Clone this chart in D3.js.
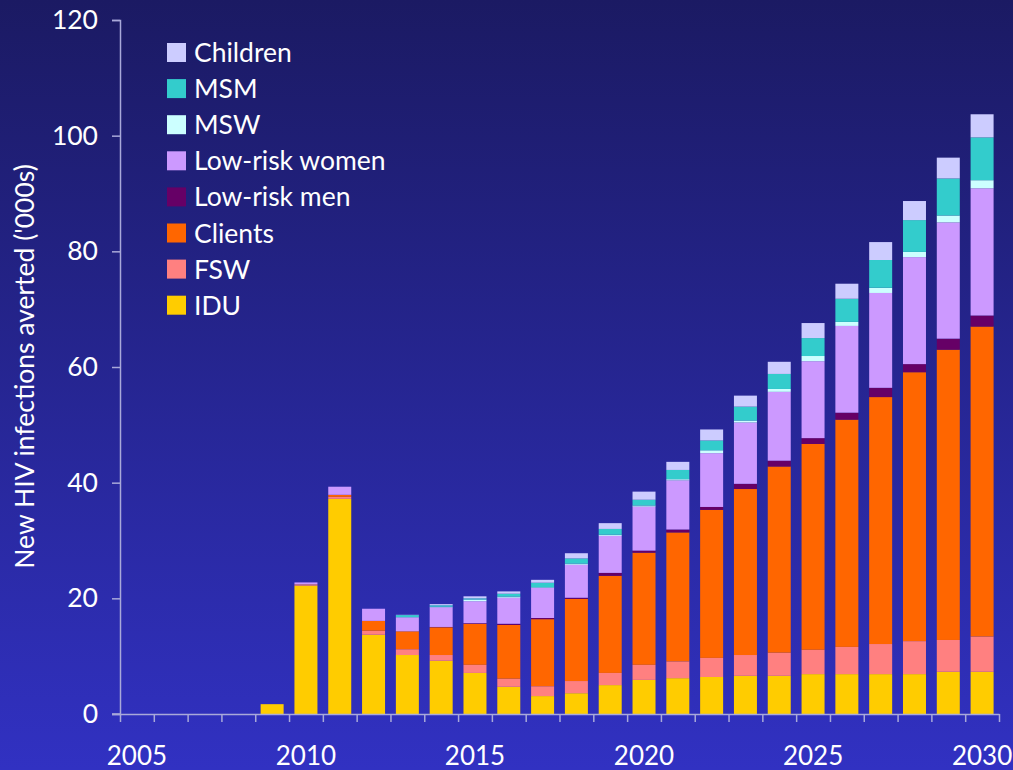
<!DOCTYPE html>
<html>
<head>
<meta charset="utf-8">
<script src="https://cdn.jsdelivr.net/npm/d3@7"></script>
<style>
  html, body { margin: 0; padding: 0; background: #1b1a64; }
  svg { display: block; }
  text { font-family: Lato, "Open Sans", sans-serif; fill: #ffffff; }
</style>
</head>
<body>
<svg id="chart" width="1013" height="770"></svg>
<script>
// Years with modelled results
const years = [2009, 2010, 2011, 2012, 2013, 2014, 2015, 2016, 2017, 2018, 2019,
               2020, 2021, 2022, 2023, 2024, 2025, 2026, 2027, 2028, 2029, 2030];

// New HIV infections averted ('000s) by population group
const idu         = [1.7, 22.2, 37.2, 13.7, 10.2, 9.2, 7.1, 4.7, 3.1, 3.6, 5.0, 5.9, 6.2, 6.4, 6.6, 6.6, 6.9, 6.9, 6.9, 6.9, 7.3, 7.3];
const fsw         = [0, 0.1, 0.35, 0.7, 1.0, 1.0, 1.4, 1.4, 1.7, 2.1, 2.1, 2.6, 2.9, 3.3, 3.6, 4.0, 4.2, 4.7, 5.2, 5.7, 5.5, 6.1];
const clients     = [0, 0.1, 0.35, 1.7, 3.1, 4.8, 7.1, 9.3, 11.6, 14.2, 16.8, 19.4, 22.3, 25.6, 28.7, 32.2, 35.6, 39.3, 42.7, 46.5, 50.2, 53.6];
const lowRiskMen  = [0, 0, 0, 0, 0, 0.05, 0.1, 0.2, 0.2, 0.2, 0.5, 0.35, 0.5, 0.5, 0.9, 1.0, 1.0, 1.2, 1.6, 1.4, 1.9, 1.9];
const lowRiskWomen= [0, 0.35, 1.4, 2.1, 2.4, 3.4, 3.8, 4.5, 5.2, 5.7, 6.4, 7.6, 8.5, 9.3, 10.6, 11.9, 13.3, 15.0, 16.4, 18.5, 20.1, 22.0];
const msw         = [0, 0, 0, 0, 0.05, 0.1, 0.3, 0.2, 0.1, 0.2, 0.2, 0.2, 0.2, 0.5, 0.35, 0.5, 0.9, 0.7, 0.9, 0.9, 1.2, 1.4];
const msm         = [0, 0, 0, 0, 0.35, 0.25, 0.2, 0.5, 0.8, 0.9, 1.0, 1.0, 1.6, 1.7, 2.4, 2.6, 3.1, 4.0, 4.8, 5.5, 6.4, 7.4];
const children    = [0, 0, 0, 0, 0.05, 0.2, 0.35, 0.4, 0.5, 0.9, 1.0, 1.4, 1.4, 1.9, 1.9, 2.1, 2.6, 2.6, 3.1, 3.3, 3.6, 4.0];

// Stack order bottom to top
const seriesNames = ["IDU", "FSW", "Clients", "Low-risk men", "Low-risk women", "MSW", "MSM", "Children"];
const seriesData  = [idu, fsw, clients, lowRiskMen, lowRiskWomen, msw, msm, children];
const seriesColors = ["#ffcc00", "#ff8080", "#ff6600", "#660066", "#cc99ff", "#ccffff", "#33cccc", "#ccccff"];

// Axis settings
const axisYears = d3.range(2005, 2031);
const yTicks = [0, 20, 40, 60, 80, 100, 120];
const xLabelYears = [2005, 2010, 2015, 2020, 2025, 2030];
const yTitle = "New HIV infections averted ('000s)";

const W = 1013, H = 770;
const plotLeft = 120, plotRight = 999, plotTop = 20, plotBottom = 714;
const axisColor = "#a9a9d9";
const fontSize = "26.5px";

const svg = d3.select("#chart");

// Background gradient
const defs = svg.append("defs");
const grad = defs.append("linearGradient").attr("id", "bg").attr("x1", 0).attr("y1", 0).attr("x2", 0).attr("y2", 1);
grad.append("stop").attr("offset", "0%").attr("stop-color", "#1b1a63");
grad.append("stop").attr("offset", "100%").attr("stop-color", "#3131c2");
svg.append("rect").attr("width", W).attr("height", H).attr("fill", "url(#bg)");

// Scales
const x = d3.scaleBand().domain(axisYears).range([plotLeft, plotRight]).padding(0);
const xEdge = d3.scaleLinear().domain([2005, 2031]).range([plotLeft, plotRight]);
const y = d3.scaleLinear().domain([0, 120]).range([plotBottom, plotTop]);

// Stacked data
const rows = years.map((yr, i) => {
  const r = { year: yr };
  seriesNames.forEach((n, k) => { r[n] = seriesData[k][i]; });
  return r;
});
const stacked = d3.stack().keys(seriesNames)(rows);

const barW = x.bandwidth() * 0.68;
const barOff = (x.bandwidth() - barW) / 2;

const barsG = svg.append("g");
stacked.forEach((layer, k) => {
  barsG.append("g").attr("fill", seriesColors[k])
    .selectAll("rect").data(layer).join("rect")
    .attr("x", d => x(d.data.year) + barOff)
    .attr("width", barW)
    .attr("y", d => y(d[1]))
    .attr("height", d => Math.max(0, y(d[0]) - y(d[1])));
});

// Y axis
const yAxis = svg.append("g").attr("transform", `translate(${plotLeft},0)`)
  .call(d3.axisLeft(y).tickValues(yTicks).tickSize(8).tickPadding(14).tickFormat(d3.format("d")));
yAxis.select(".domain").attr("stroke", axisColor).attr("stroke-width", 1.5);
yAxis.selectAll(".tick line").attr("stroke", axisColor).attr("stroke-width", 1.5);
yAxis.selectAll(".tick text").attr("fill", "#ffffff").style("font-size", fontSize).style("font-family", "Lato, sans-serif");

// X axis: ticks at year boundaries, labels centred in each fifth year
const xAxis = svg.append("g").attr("transform", `translate(0,${plotBottom})`)
  .call(d3.axisBottom(xEdge).tickValues(d3.range(2005, 2032)).tickSize(8).tickSizeOuter(0).tickFormat(""));
xAxis.select(".domain").attr("stroke", axisColor).attr("stroke-width", 1.5);
xAxis.selectAll(".tick line").attr("stroke", axisColor).attr("stroke-width", 1.5);
svg.append("line").attr("x1", plotLeft - 8).attr("x2", plotLeft).attr("y1", plotBottom).attr("y2", plotBottom)
  .attr("stroke", axisColor).attr("stroke-width", 1.5);

svg.append("g").selectAll("text").data(xLabelYears).join("text")
  .attr("x", d => x(d) + x.bandwidth() / 2)
  .attr("y", 765)
  .attr("text-anchor", "middle")
  .style("font-size", "26px")
  .text(d => d);

// Y axis title
svg.append("text")
  .attr("transform", `translate(34,${(163 + 570) / 2}) rotate(-90)`)
  .attr("text-anchor", "middle")
  .style("font-size", "26.5px")
  .text(yTitle);

// Legend, top to bottom
const legendOrder = seriesNames.map((n, k) => ({ name: n, color: seriesColors[k] })).reverse();
const legend = svg.append("g");
legendOrder.forEach((d, i) => {
  const cy = 52.5 + i * 36.1;
  legend.append("rect").attr("x", 167).attr("y", cy - 9.5).attr("width", 19).attr("height", 19).attr("fill", d.color);
  legend.append("text").attr("x", 194).attr("y", cy + 9.5).style("font-size", fontSize).text(d.name);
});
</script>
</body>
</html>
